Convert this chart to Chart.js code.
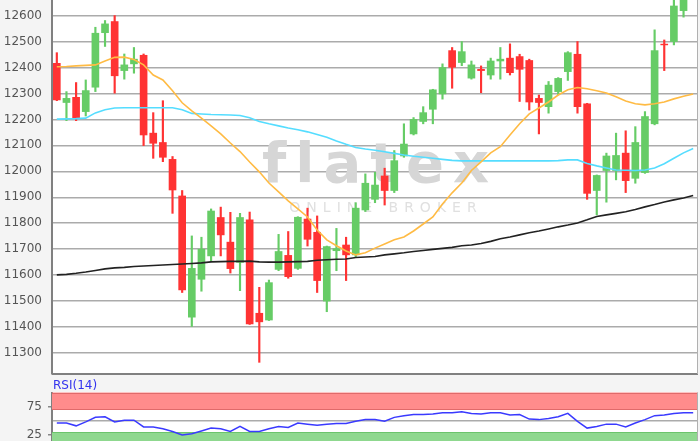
<!DOCTYPE html>
<html>
<head>
<meta charset="utf-8">
<script src="https://cdn.jsdelivr.net/npm/chart.js@4.4.0/dist/chart.umd.min.js"></script>
<style>
  html, body { margin: 0; padding: 0; background: #f4f4f4; width: 700px; height: 441px; overflow: hidden; }
  #priceChart { position: absolute; left: 0; top: 0; }
  #rsiChart { position: absolute; left: 0; top: 378px; }
</style>
</head>
<body>
<canvas id="priceChart" width="700" height="376"></canvas>
<canvas id="rsiChart" width="700" height="72"></canvas>
<script>
// ---------- DATA ----------
const opens  = [12416,12265,12285,12230,12324,12534,12577,12388,12414,12447,12147,12111,12046,11905,11438,11584,11674,11822,11727,11649,
                11813,11453,11427,11622,11676,11626,11816,11765,11500,11694,11716,11678,11851,11892,11982,11926,12059,12144,12192,12239,
                12298,12465,12419,12359,12393,12371,12425,12436,12442,12427,12281,12249,12307,12384,12451,12260,11926,12003,12003,12070,
                11973,11995,12183,12490,12500,12619,null];
const highs  = [12457,12307,12342,12352,12555,12581,12600,12452,12477,12452,12226,12272,12057,11926,11751,11746,11855,11862,11842,11838,
                11843,11553,11581,11757,11768,11825,11858,11828,11712,11780,11746,11879,11990,11996,12012,12080,12183,12207,12249,12316,
                12414,12477,12500,12425,12406,12436,12477,12491,12451,12432,12294,12346,12361,12461,12500,12262,11986,12070,12147,12156,
                12172,12230,12545,12506,12665,12700,null];
const lows   = [12272,12195,12195,12213,12307,12481,12301,12355,12378,12099,12050,12037,11838,11533,11402,11538,11652,11674,11608,11540,
                11410,11264,11425,11617,11588,11622,11712,11533,11459,11617,11579,11671,11845,11879,11870,11918,12054,12140,12183,12183,
                12278,12320,12407,12355,12303,12355,12355,12371,12269,12236,12144,12224,12294,12350,12224,11892,11832,11881,11967,11918,
                11954,11992,12179,12388,12487,12594,null];
const closes = [12275,12281,12204,12311,12532,12568,12368,12410,12432,12140,12108,12054,11928,11543,11626,11700,11847,11755,11625,11822,
                11412,11420,11571,11691,11594,11823,11738,11579,11710,11702,11678,11858,11954,11947,11926,12041,12105,12200,12226,12314,
                12400,12401,12461,12410,12388,12425,12432,12380,12393,12267,12265,12332,12358,12457,12249,11915,11984,12059,12061,11964,
                12111,12211,12465,12487,12637,12680,null];

// moving averages
const maShort = [12403,12404,12406,12408,12410,12425,12439,12440,12431,12410,12371,12352,12310,12264,12233,12205,12175,12144,12109,12076,
                 12036,11998,11955,11921,11886,11855,11824,11774,11736,11713,11693,11678,11686,11704,11720,11736,11747,11770,11797,11824,
                 11874,11917,11955,12003,12036,12071,12095,12140,12183,12221,12244,12267,12294,12314,12323,12318,12310,12302,12287,12271,
                 12260,12256,12260,12267,12279,12289,12298];
const maMid   = [12201,12202,12203,12205,12225,12237,12244,12245,12245,12245,12245,12245,12245,12237,12223,12221,12219,12218,12217,12215,
                 12206,12192,12183,12175,12167,12160,12152,12142,12131,12117,12104,12092,12086,12081,12075,12069,12063,12058,12054,12050,
                 12046,12042,12040,12040,12040,12040,12040,12040,12040,12040,12040,12040,12041,12044,12044,12030,12021,12013,12005,12004,
                 12003,12005,12013,12029,12050,12071,12088];
const maLong  = [11601,11603,11607,11612,11618,11624,11628,11630,11633,11635,11637,11639,11641,11643,11645,11647,11651,11652,11653,11653,
                 11654,11651,11650,11650,11651,11652,11653,11657,11659,11661,11662,11668,11670,11672,11678,11682,11686,11691,11695,11699,
                 11703,11707,11713,11716,11722,11730,11740,11747,11755,11763,11770,11778,11786,11793,11801,11813,11826,11832,11838,11844,
                 11853,11863,11872,11882,11890,11897,11907];

// RSI(14)
const rsi = [46,46,41,48,56,57,48,51,51,39,39,36,31,25,27,32,37,36,31,40,
             31,31,36,40,38,46,44,42,44,45,45,49,52,52,49,56,59,61,61,62,
             64,64,66,63,62,64,64,60,61,53,52,54,57,63,49,37,40,44,44,39,
             46,52,59,60,63,64,64];

const priceTicks = [11300,11400,11500,11600,11700,11800,11900,12000,12100,12200,12300,12400,12500,12600];
const rsiTicks = [25, 50, 75];
const rsiUpper = 70, rsiLower = 30;

const days = opens.map((_, i) => i + 1);

// ---------- STYLE ----------
const RED = "#ff3333";
const GREEN = "#66cc66";
const FONT = "DejaVu Sans";

const candleColors = opens.map((o, i) => (o == null ? "rgba(0,0,0,0)" : closes[i] >= o ? GREEN : RED));

// white plot area + frame
const plotFrame = {
  id: "plotFrame",
  beforeDraw(chart) {
    const { ctx, chartArea: a } = chart;
    ctx.save();
    ctx.fillStyle = "#ffffff";
    ctx.fillRect(a.left, a.top, a.right - a.left, a.bottom - a.top);
    ctx.restore();
  },
  afterDraw(chart) {
    const { ctx, chartArea: a } = chart;
    ctx.save();
    ctx.strokeStyle = "#808080";
    ctx.lineWidth = 2;
    ctx.beginPath();
    ctx.moveTo(a.left, a.bottom);
    ctx.lineTo(a.right, a.bottom);
    ctx.stroke();
    ctx.strokeStyle = "#b0b0b0";
    ctx.lineWidth = 1;
    ctx.beginPath();
    ctx.moveTo(a.right - 0.5, a.top);
    ctx.lineTo(a.right - 0.5, a.bottom);
    ctx.stroke();
    ctx.restore();
  },
};

const watermark = {
  id: "watermark",
  beforeDatasetsDraw(chart) {
    const { ctx } = chart;
    ctx.save();
    ctx.textAlign = "center";
    ctx.textBaseline = "alphabetic";
    ctx.fillStyle = "#d6d6d6";
    ctx.font = `bold 56px "${FONT}"`;
    ctx.letterSpacing = "9px";
    ctx.fillText("flatex", 380, 182);
    ctx.fillStyle = "#e0e0e0";
    ctx.font = `14px "${FONT}"`;
    ctx.letterSpacing = "6px";
    ctx.fillText("ONLINE BROKER", 386, 212);
    ctx.restore();
  },
};

// ---------- PRICE CHART ----------
new Chart(document.getElementById("priceChart").getContext("2d"), {
  type: "bar",
  data: {
    labels: days,
    datasets: [
      { type: "line", label: "MA short", data: maShort, borderColor: "#ffbb44", borderWidth: 1.6, pointRadius: 0, order: 0 },
      { type: "line", label: "MA mid", data: maMid, borderColor: "#55ddff", borderWidth: 1.6, pointRadius: 0, order: 0 },
      { type: "line", label: "MA long", data: maLong, borderColor: "#222222", borderWidth: 1.6, pointRadius: 0, order: 0 },
      { label: "body", data: opens.map((o, i) => (o == null ? null : [o, closes[i]])),
        backgroundColor: candleColors, barThickness: 7, order: 1 },
      { label: "wick", data: highs.map((h, i) => (h == null ? null : [lows[i], h])),
        backgroundColor: candleColors, barThickness: 1.5, order: 2 },
    ],
  },
  options: {
    responsive: false,
    animation: false,
    events: [],
    layout: { padding: { top: 0, right: 2, bottom: 2, left: 0 } },
    datasets: { bar: { grouped: false } },
    plugins: { legend: { display: false }, tooltip: { enabled: false } },
    scales: {
      x: { type: "category", display: false, offset: true },
      y: {
        min: 11219,
        max: 12660,
        afterBuildTicks: (scale) => { scale.ticks = priceTicks.map((v) => ({ value: v })); },
        afterFit: (scale) => { scale.width = 52; scale.paddingTop = 0; scale.paddingBottom = 0; },
        grid: { color: "#ababab", lineWidth: 1.5, drawTicks: false },
        border: { display: true, color: "#808080", width: 2 },
        ticks: { padding: 10, color: "#555", font: { family: FONT, size: 12 }, callback: (v) => String(v) },
      },
    },
  },
  plugins: [plotFrame, watermark],
});

// ---------- RSI CHART ----------
const rsiBands = {
  id: "rsiBands",
  beforeDatasetsDraw(chart) {
    const { ctx, chartArea: a, scales: { y } } = chart;
    const w = a.right - a.left;
    ctx.save();
    ctx.fillStyle = "#ff8c8c";
    ctx.fillRect(a.left, y.getPixelForValue(100), w, y.getPixelForValue(rsiUpper) - y.getPixelForValue(100));
    ctx.fillStyle = "#8fd88f";
    ctx.fillRect(a.left, y.getPixelForValue(rsiLower), w, y.getPixelForValue(0) - y.getPixelForValue(rsiLower));
    ctx.lineWidth = 1;
    ctx.strokeStyle = "#e06a6a";
    [100, rsiUpper].forEach((v) => {
      const py = Math.round(y.getPixelForValue(v)) + 0.5;
      ctx.beginPath(); ctx.moveTo(a.left, py); ctx.lineTo(a.right, py); ctx.stroke();
    });
    ctx.strokeStyle = "#6cc46c";
    const gy = Math.round(y.getPixelForValue(rsiLower)) + 0.5;
    ctx.beginPath(); ctx.moveTo(a.left, gy); ctx.lineTo(a.right, gy); ctx.stroke();
    ctx.restore();
  },
  afterDraw(chart) {
    const { ctx, chartArea: a } = chart;
    ctx.save();
    ctx.fillStyle = "#3333ee";
    ctx.font = `12px "${FONT}"`;
    ctx.textAlign = "left";
    ctx.textBaseline = "alphabetic";
    ctx.fillText("RSI(14)", a.left + 1, a.top - 3.5);
    ctx.restore();
  },
};

new Chart(document.getElementById("rsiChart").getContext("2d"), {
  type: "line",
  data: {
    labels: days,
    datasets: [
      { label: "RSI(14)", data: rsi, borderColor: "#3a3aff", borderWidth: 1.5, pointRadius: 0 },
    ],
  },
  options: {
    responsive: false,
    animation: false,
    events: [],
    layout: { padding: { top: 14.5, right: 2, bottom: 1, left: 0 } },
    plugins: { legend: { display: false }, tooltip: { enabled: false } },
    scales: {
      x: { type: "category", display: false, offset: true },
      y: {
        min: 0,
        max: 100,
        afterBuildTicks: (scale) => { scale.ticks = rsiTicks.map((v) => ({ value: v })); },
        afterFit: (scale) => { scale.width = 52; scale.paddingTop = 0; scale.paddingBottom = 0; },
        grid: {
          color: (c) => (c.tick && c.tick.value === 50 ? "#ababab" : "rgba(0,0,0,0)"),
          tickColor: (c) => (c.tick && c.tick.value === 50 ? "rgba(0,0,0,0)" : "#888"),
          lineWidth: 1.5,
          tickLength: 4,
        },
        border: { display: true, color: "#808080", width: 2 },
        ticks: {
          padding: 6,
          color: "#555",
          font: { family: FONT, size: 12 },
          callback: (v) => (v === 50 ? "" : String(v)),
        },
      },
    },
  },
  plugins: [plotFrame, rsiBands],
});
</script>
</body>
</html>
